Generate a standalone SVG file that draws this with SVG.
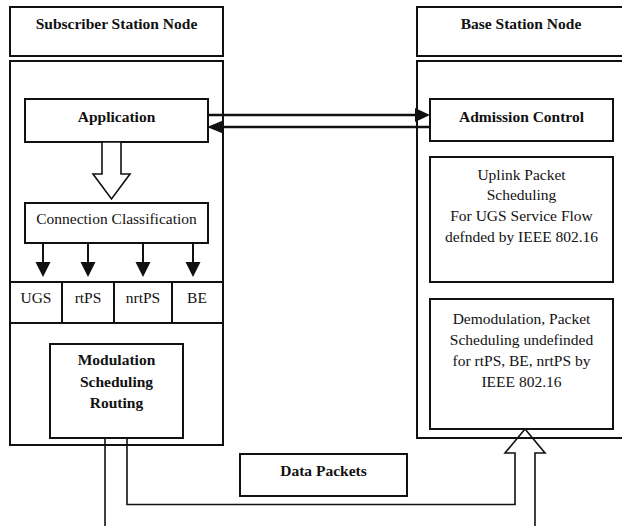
<svg xmlns="http://www.w3.org/2000/svg" width="622" height="526" viewBox="0 0 622 526" font-family="'Liberation Serif', 'Times New Roman', serif">
<style>
.box{fill:#fff;stroke:#111;stroke-width:2}
.ln{fill:none;stroke:#111;stroke-width:2}
.th{fill:none;stroke:#111;stroke-width:2.5}
.hd{fill:#111;stroke:none}
.hollow{fill:#fff;stroke:#111;stroke-width:1.6;stroke-linejoin:miter}
.open{fill:none;stroke:#111;stroke-width:1.6;stroke-linejoin:miter}
text{font-family:'Liberation Serif','Times New Roman',serif;font-size:15.5px;fill:#111;text-anchor:middle}
.b{font-weight:bold}
</style>
<rect width="622" height="526" fill="#fff"/>
<g id="ss-title"><rect class="box" x="10" y="7" width="213" height="49"/><text class="b" x="116.5" y="29">Subscriber Station Node</text></g>
<g id="ss-node"><rect class="box" x="10" y="61" width="213" height="384"/></g>
<g id="application"><rect class="box" x="25" y="99" width="183" height="43"/><text class="b" x="116.5" y="122">Application</text></g>
<g id="conn-class"><rect class="box" x="25" y="203" width="183" height="40"/><text x="116.5" y="224">Connection Classification</text></g>
<g id="service-row">
<line class="ln" x1="10" y1="282" x2="223" y2="282"/>
<line class="ln" x1="10" y1="323" x2="223" y2="323"/>
<line class="ln" x1="62" y1="282" x2="62" y2="323"/>
<line class="ln" x1="114" y1="282" x2="114" y2="323"/>
<line class="ln" x1="172" y1="282" x2="172" y2="323"/>
</g>
<g id="ugs"><text x="36" y="303">UGS</text></g>
<g id="rtps"><text x="88" y="303">rtPS</text></g>
<g id="nrtps"><text x="143" y="303">nrtPS</text></g>
<g id="be"><text x="197" y="303">BE</text></g>
<g id="modulation"><rect class="box" x="50" y="344" width="133" height="94"/><text class="b" x="116.5" y="365">Modulation</text><text class="b" x="116.5" y="387">Scheduling</text><text class="b" x="116.5" y="408">Routing</text></g>
<g id="bs-title"><rect class="box" x="417" y="7" width="215" height="49"/><text class="b" x="521" y="29">Base Station Node</text></g>
<g id="bs-node"><rect class="box" x="417" y="61" width="215" height="377"/></g>
<g id="admission"><rect class="box" x="430" y="99" width="183" height="42"/><text class="b" x="521.5" y="122">Admission Control</text></g>
<g id="uplink"><rect class="box" x="430" y="157" width="183" height="125"/><text x="521.5" y="180">Uplink Packet</text><text x="521.5" y="200">Scheduling</text><text x="521.5" y="221">For UGS Service Flow</text><text x="521.5" y="242">defnded by IEEE 802.16</text></g>
<g id="demod"><rect class="box" x="430" y="299" width="183" height="130"/><text x="521.5" y="324">Demodulation, Packet</text><text x="521.5" y="345">Scheduling undefinded</text><text x="521.5" y="366">for rtPS, BE, nrtPS by</text><text x="521.5" y="387">IEEE 802.16</text></g>
<g id="data-packets"><rect class="box" x="240" y="454" width="167" height="42"/><text class="b" x="323.5" y="476">Data Packets</text></g>
<g id="connectors">
<polygon class="hollow" points="102,142 121,142 121,174 130,174 111.5,199 93,174 102,174"/>
<line class="ln" x1="43" y1="243" x2="43" y2="263"/><polygon class="hd" points="35.5,262 50.5,262 43,277"/>
<line class="ln" x1="88" y1="243" x2="88" y2="263"/><polygon class="hd" points="80.5,262 95.5,262 88,277"/>
<line class="ln" x1="143" y1="243" x2="143" y2="263"/><polygon class="hd" points="135.5,262 150.5,262 143,277"/>
<line class="ln" x1="193" y1="243" x2="193" y2="263"/><polygon class="hd" points="185.5,262 200.5,262 193,277"/>
<line class="th" x1="208" y1="115" x2="416" y2="115"/><polygon class="hd" points="415,108 430,115 415,122"/>
<line class="th" x1="431" y1="127" x2="222" y2="127"/><polygon class="hd" points="223,120.5 207,127 223,133.5"/>
<path class="open" d="M105,438 V527"/>
<path class="open" d="M127,438 V504.5 H515 V453 H505 L525,429 L545,453 H535 V527"/>
</g>
</svg>
